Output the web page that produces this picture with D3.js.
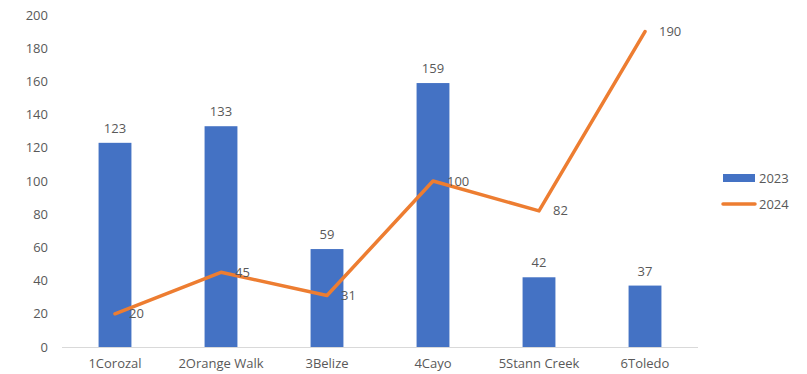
<!DOCTYPE html>
<html>
<head>
<meta charset="utf-8">
<script src="https://cdn.jsdelivr.net/npm/d3@7/dist/d3.min.js"></script>
<style>
  body { margin: 0; background: #fff; }
  svg text { font-family: "Open Sans", "Noto Sans", sans-serif; fill: #595959; }
</style>
</head>
<body>
<svg id="chart" width="807" height="374"></svg>
<script>
const districts = ["1Corozal", "2Orange Walk", "3Belize", "4Cayo", "5Stann Creek", "6Toledo"];
const values2023 = [123, 133, 59, 159, 42, 37];
const values2024 = [20, 45, 31, 100, 82, 190];
const yTicks = [0, 20, 40, 60, 80, 100, 120, 140, 160, 180, 200];
const seriesNames = ["2023", "2024"];

const barColor = "#4472C4";
const lineColor = "#ED7D31";

const svg = d3.select("#chart");
const margin = { left: 62, right: 109, top: 15, bottom: 27 };
const width = 807, height = 374;

const x = d3.scaleBand()
  .domain(districts)
  .range([margin.left, width - margin.right])
  .paddingInner(0.69)
  .paddingOuter(0.345);

const xCenter = d => x(d) + x.bandwidth() / 2;

const y = d3.scaleLinear()
  .domain([0, 200])
  .range([height - margin.bottom, margin.top]);

// y-axis tick labels (no axis line, no gridlines)
const yAxis = d3.axisLeft(y).tickValues(yTicks).tickSize(0).tickPadding(14);
const gy = svg.append("g").attr("transform", `translate(${margin.left},0)`).call(yAxis);
gy.select(".domain").remove();
gy.selectAll("text").style("font-size", "13px").attr("fill", "#595959");

// x-axis baseline and category labels
const xAxis = d3.axisBottom(x).tickSize(0).tickPadding(12);
const gx = svg.append("g").attr("transform", `translate(0,${y(0)})`).call(xAxis);
gx.select(".domain").attr("stroke", "#d9d9d9").attr("stroke-width", 1)
  .attr("d", `M${margin.left},0.5H${width - margin.right}`);
gx.selectAll("text").style("font-size", "13px").attr("fill", "#595959");

// 2023 bars
svg.append("g").selectAll("rect")
  .data(districts)
  .join("rect")
  .attr("x", d => x(d))
  .attr("width", x.bandwidth())
  .attr("y", (d, i) => y(values2023[i]))
  .attr("height", (d, i) => y(0) - y(values2023[i]))
  .attr("fill", barColor);

svg.append("g").selectAll("text")
  .data(districts)
  .join("text")
  .attr("x", d => xCenter(d))
  .attr("y", (d, i) => y(values2023[i]) - 10)
  .attr("text-anchor", "middle")
  .style("font-size", "13px")
  .text((d, i) => values2023[i]);

// 2024 line
const line = d3.line()
  .x(d => xCenter(d[0]))
  .y(d => y(d[1]));

svg.append("path")
  .datum(districts.map((d, i) => [d, values2024[i]]))
  .attr("d", line)
  .attr("fill", "none")
  .attr("stroke", lineColor)
  .attr("stroke-width", 3.5)
  .attr("stroke-linejoin", "round")
  .attr("stroke-linecap", "round");

svg.append("g").selectAll("text")
  .data(districts)
  .join("text")
  .attr("x", d => xCenter(d) + 14)
  .attr("y", (d, i) => y(values2024[i]))
  .attr("dy", "0.35em")
  .style("font-size", "13px")
  .text((d, i) => values2024[i]);

// legend
const legend = svg.append("g").attr("transform", "translate(723,0)");
legend.append("rect").attr("x", 0).attr("y", 174).attr("width", 32).attr("height", 8).attr("fill", barColor);
legend.append("text").attr("x", 36).attr("y", 178).attr("dy", "0.35em").style("font-size", "13px").text(seriesNames[0]);
legend.append("line").attr("x1", 0).attr("x2", 32).attr("y1", 204).attr("y2", 204)
  .attr("stroke", lineColor).attr("stroke-width", 3.5).attr("stroke-linecap", "round");
legend.append("text").attr("x", 36).attr("y", 204).attr("dy", "0.35em").style("font-size", "13px").text(seriesNames[1]);
</script>
</body>
</html>
